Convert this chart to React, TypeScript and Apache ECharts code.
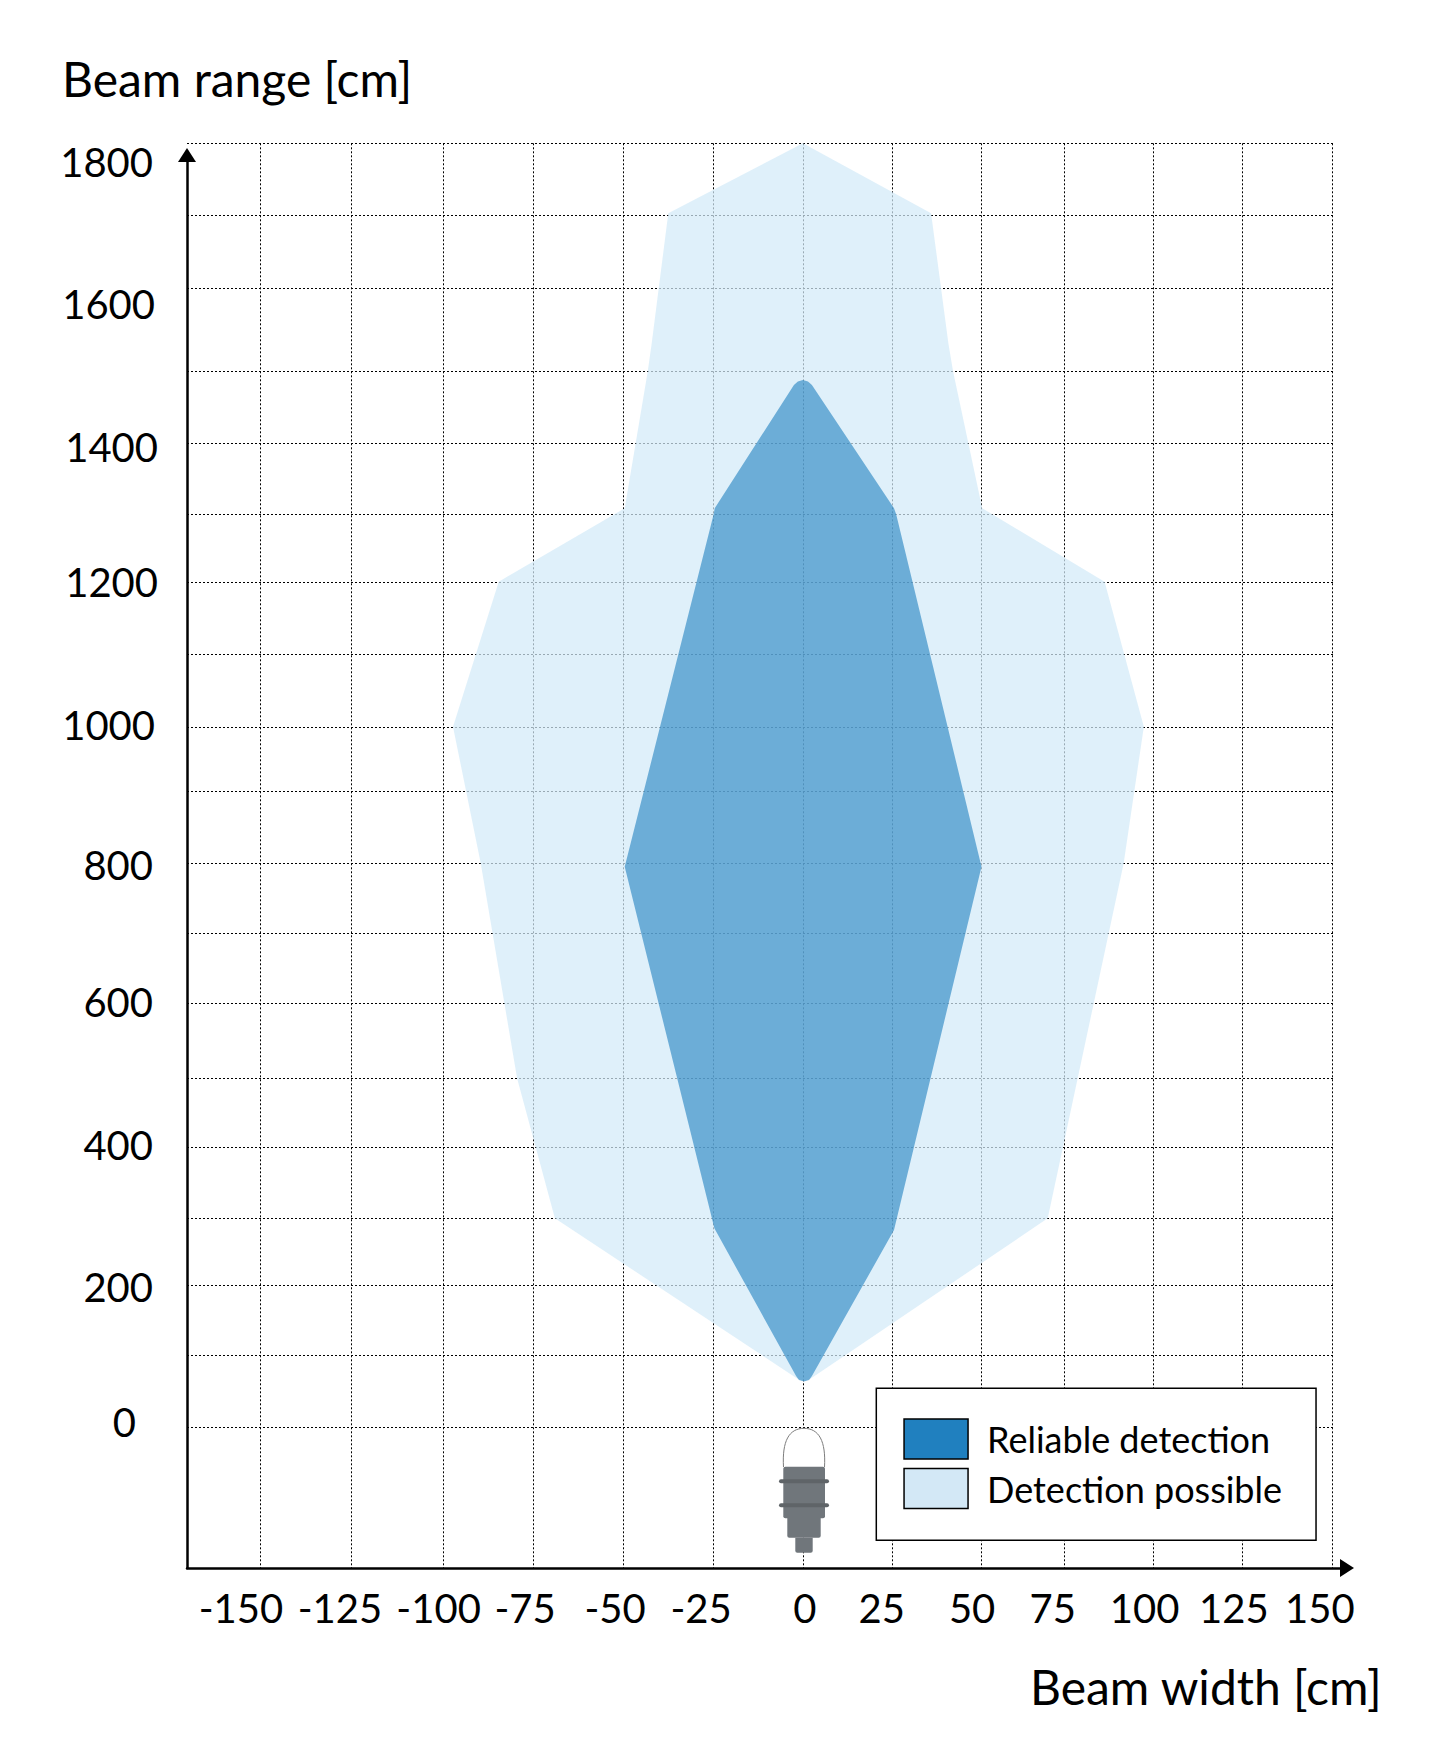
import React, { useEffect, useRef } from "react";
import * as echarts from "echarts";

const seriesNames = ["Reliable detection", "Detection possible"];
const xTickLabels = ["-150", "-125", "-100", "-75", "-50", "-25", "0", "25", "50", "75", "100", "125", "150"];
const xLabelValues = [-156.4, -128.9, -101.5, -77.5, -52.5, -28.6, 0.2, 21.6, 46.7, 69.1, 94.6, 119.4, 143.3];
const xGridValues = [-151, -125.7, -100.3, -75.2, -50.1, -25.2, -0.2, 24.6, 49.3, 72.4, 97, 121.6, 146.6];
const yTickLabels = ["1800", "1600", "1400", "1200", "1000", "800", "600", "400", "200", "0"];
const yLabelValues = [1774.4, 1574.2, 1374.8, 1184.9, 984.4, 788.5, 596.3, 395.9, 196.8, 7.9];
const yLabelStyles = ["p5", "p3", "p0", "p0", "p3", "p5", "p5", "p5", "p5", "p22"];
const yGridValues = [1800, 1699.1, 1596.8, 1480.4, 1379.5, 1280, 1184.6, 1083.7, 981.4, 891.6, 790.7, 692.6, 594.4, 489.3, 392.5, 293, 199.1, 100.9, 0];

const possibleBeam = [
  [-0.3, 1800], [35.3, 1702], [40.1, 1519.7], [41.4, 1480.4], [49.5, 1288.4], [83.5, 1185.5],
  [94.4, 982.2], [88.8, 790.7], [67.7, 293], [1.7, 67.7], [0, 64.9], [-1.7, 67.7],
  [-69.2, 293], [-79.7, 489.3], [-89.8, 790.7], [-97.5, 982.2], [-84.8, 1185.5], [-49.8, 1288.4],
  [-43.4, 1480.4], [-42.3, 1519.7], [-37.7, 1702],
];
const reliableBeam = [
  [-0.3, 1468.2], [1.1, 1466.1], [2.2, 1461.2], [25, 1288.4], [25.6, 1280], [49.3, 785.9],
  [25, 276.6], [2.2, 71.9], [1.4, 66.3], [0, 64.2], [-1.4, 66.3], [-2.2, 71.9],
  [-24.9, 279], [-49.8, 785.9], [-25.1, 1280], [-24.8, 1288.4], [-2.8, 1461.2], [-1.7, 1466.1],
];

const FONT = "Lato";
const DARK = "#2080BF";
const LIGHT = "#D3E8F6";
const LIGHT_AREA = "#D3EAF8";

echarts.graphic.registerShape(
  "sensorDome",
  echarts.graphic.extendPath("M783.5 1467 C782 1441 789 1428.5 804 1428.3 C819 1428.5 826 1441 824.5 1467", {}),
);

const polygonSeries = (name: string, data: number[][], color: string, opacity: number, z: number) => ({
  type: "custom",
  name,
  coordinateSystem: "cartesian2d",
  xAxisIndex: 0,
  yAxisIndex: 0,
  z,
  data,
  encode: { x: 0, y: 1 },
  itemStyle: { color },
  renderItem: (params: any, api: any) => {
    if (params.dataIndex !== 0) return null;
    return {
      type: "polygon",
      shape: { points: data.map((p) => api.coord(p)) },
      style: { fill: color, opacity },
    };
  },
});

const nearestIndex = (arr: number[], v: number) => {
  let best = 0;
  arr.forEach((a, i) => {
    if (Math.abs(a - v) < Math.abs(arr[best] - v)) best = i;
  });
  return best;
};

const digitStyle = { fontFamily: FONT, fontSize: 40, color: "#000" };
const GREY = "#70767B";
const DARKGREY = "#5F6468";

const sensor = [
  { type: "sensorDome", x: 0, y: 0, z: 6, style: { fill: "#fff", stroke: "#7d7d7d", lineWidth: 1 } },
  { type: "rect", z: 7, shape: { x: 783.3, y: 1466.7, width: 41.7, height: 51.6, r: 2 }, style: { fill: GREY } },
  { type: "rect", z: 8, shape: { x: 779, y: 1479.3, width: 50, height: 4, r: 2 }, style: { fill: DARKGREY } },
  { type: "rect", z: 8, shape: { x: 779, y: 1503.3, width: 50, height: 4, r: 2 }, style: { fill: DARKGREY } },
  { type: "rect", z: 7, shape: { x: 787.3, y: 1518, width: 33.4, height: 19.7, r: [0, 0, 2, 2] }, style: { fill: GREY } },
  { type: "rect", z: 7, shape: { x: 795.3, y: 1537.7, width: 17.4, height: 15, r: [0, 0, 2, 2] }, style: { fill: GREY } },
];

export default function App() {
  const ref = useRef<HTMLDivElement>(null);
  useEffect(() => {
    document.body.style.margin = "0";
    const chart = echarts.init(ref.current!, undefined, { renderer: "svg" });
    const gridLine = { show: true, lineStyle: { color: "#000", width: 1, type: [2, 2] as any } };
    chart.setOption({
      animation: false,
      backgroundColor: "#fff",
      title: [
        { text: "Beam range [cm]", left: 62, top: 54, padding: 0, textStyle: { fontFamily: FONT, fontSize: 48, fontWeight: "normal", color: "#000" } },
        { text: "Beam width [cm]", left: 1030, top: 1662, padding: 0, textStyle: { fontFamily: FONT, fontSize: 48, fontWeight: "normal", color: "#000" } },
      ],
      grid: [
        { left: 187, top: 143.3, width: 1147, height: 1424.7 },
        { left: 187, top: 155, width: 1160, height: 1413 },
      ],
      xAxis: [
        {
          type: "value", gridIndex: 0, min: -171.39, max: 147.22, position: "bottom",
          axisLine: { show: false },
          axisTick: { show: false, customValues: xGridValues },
          splitLine: gridLine,
          axisLabel: {
            show: true, customValues: xLabelValues, margin: 20, ...digitStyle,
            formatter: (v: number) => xTickLabels[nearestIndex(xLabelValues, v)],
          },
        },
        {
          type: "value", gridIndex: 1, min: 0, max: 1, position: "bottom", splitLine: { show: false },
          axisTick: { show: false }, axisLabel: { show: false },
          axisLine: { show: true, onZero: false, symbol: ["none", "triangle"], symbolSize: [18, 14], lineStyle: { color: "#000", width: 2.5 } },
        },
      ],
      yAxis: [
        {
          type: "value", gridIndex: 0, min: -197.25, max: 1800, position: "left",
          axisLine: { show: false },
          axisTick: { show: false, customValues: yGridValues },
          splitLine: gridLine,
          axisLabel: {
            show: true, customValues: yLabelValues, margin: 29, align: "right", ...digitStyle,
            formatter: (v: number) => {
              const i = nearestIndex(yLabelValues, v);
              return `{${yLabelStyles[i]}|${yTickLabels[i]}}`;
            },
            rich: {
              p0: { ...digitStyle },
              p3: { ...digitStyle, padding: [0, 3, 0, 0] },
              p5: { ...digitStyle, padding: [0, 5, 0, 0] },
              p22: { ...digitStyle, padding: [0, 22, 0, 0] },
            },
          },
        },
        {
          type: "value", gridIndex: 1, min: 0, max: 1, position: "left", splitLine: { show: false },
          axisTick: { show: false }, axisLabel: { show: false },
          axisLine: { show: true, onZero: false, symbol: ["none", "triangle"], symbolSize: [18, 14], lineStyle: { color: "#000", width: 2.5 } },
        },
      ],
      legend: {
        orient: "vertical", left: 876.3, top: 1388.3, z: 10,
        padding: [30, 34, 31, 27], itemGap: 8, itemWidth: 64, itemHeight: 40,
        backgroundColor: "#fff", borderColor: "#000", borderWidth: 1.5, selectedMode: false,
        textStyle: { fontFamily: FONT, fontSize: 36, color: "#000", lineHeight: 40, padding: [0, 0, 0, 14] },
        data: [
          { name: seriesNames[0], icon: "rect", itemStyle: { color: DARK, borderColor: "#000", borderWidth: 1.5, opacity: 1 } },
          { name: seriesNames[1], icon: "rect", itemStyle: { color: LIGHT, borderColor: "#000", borderWidth: 1.5, opacity: 1 } },
        ],
      },
      graphic: sensor,
      series: [
        polygonSeries(seriesNames[1], possibleBeam, LIGHT_AREA, 0.72, 2),
        polygonSeries(seriesNames[0], reliableBeam, DARK, 0.6, 3),
      ],
    });
    return () => chart.dispose();
  }, []);
  return <div ref={ref} style={{ width: 1454, height: 1756 }} />;
}
